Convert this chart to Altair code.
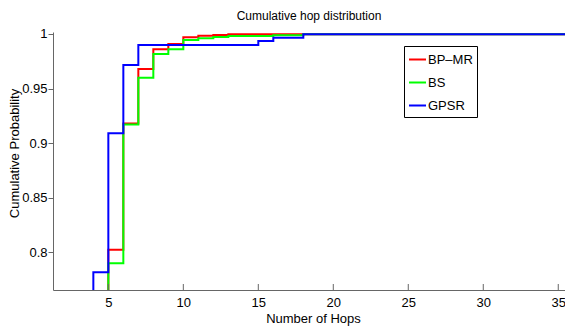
import altair as alt
import pandas as pd

# Step CDF data (x = number of hops, value = cumulative probability after step)
bpmr_x = [4, 5, 6, 7, 8, 9, 10, 11, 12, 13, 37]
bpmr_y = [0.70, 0.8024, 0.918, 0.9678, 0.986, 0.9908, 0.9969, 0.9984, 0.9990, 0.9998, 0.9998]

bs_x = [4, 5, 6, 7, 8, 9, 10, 11, 12, 13, 16, 18, 37]
bs_y = [0.70, 0.790, 0.917, 0.960, 0.9816, 0.986, 0.9945, 0.9960, 0.9973, 0.9982, 0.9988, 0.9998, 0.9998]

gpsr_x = [3, 4, 5, 6, 7, 15, 16, 18, 37]
gpsr_y = [0.70, 0.7817, 0.909, 0.9715, 0.990, 0.9935, 0.9966, 0.9998, 0.9998]

series_names = ["BP–MR", "BS", "GPSR"]
series_colors = ["#ff0000", "#00ff00", "#0000ff"]

x_ticks = [5, 10, 15, 20, 25, 30, 35]
y_ticks = [0.8, 0.85, 0.9, 0.95, 1.0]

rows = []
for name, xs, ys in zip(series_names, [bpmr_x, bs_x, gpsr_x], [bpmr_y, bs_y, gpsr_y]):
    for i, (a, b) in enumerate(zip(xs, ys)):
        rows.append({"series": name, "hops": a, "prob": b, "order": i})
df = pd.DataFrame(rows)

W, H = 512, 258
xscale = alt.Scale(domain=[1.31, 35.45], nice=False, zero=False)
yscale = alt.Scale(domain=[0.7655, 1.0018], nice=False, zero=False)

lines = alt.Chart(df).mark_line(interpolate="step-after", strokeWidth=2, clip=True).encode(
    x=alt.X("hops:Q", scale=xscale,
            axis=alt.Axis(values=x_ticks, title="Number of Hops", ticks=False, labelPadding=6,
                          grid=False, domainColor="#666666", labelColor="#000000",
                          titleY=32, titleX=260, titleBaseline="alphabetic",
                          labelFontSize=13, titleFontSize=13,
                          titleFontWeight="normal", labelFont="Liberation Sans",
                          titleFont="Liberation Sans")),
    y=alt.Y("prob:Q", scale=yscale,
            axis=alt.Axis(values=y_ticks, title="Cumulative Probability", tickSize=5,
                          labelPadding=1, grid=False, domainColor="#666666",
                          tickColor="#666666", labelColor="#000000", titlePadding=0,
                          titleY=121,
                          labelFontSize=13, titleFontSize=13, titleFontWeight="normal",
                          labelFont="Liberation Sans", titleFont="Liberation Sans",
                          labelExpr="datum.value == 1 ? '1' : format(datum.value, '.2~f')")),
    color=alt.Color("series:N",
                    scale=alt.Scale(domain=series_names, range=series_colors),
                    legend=alt.Legend(title=None, orient="none", legendX=351, legendY=14,
                                      symbolType="stroke", symbolSize=289, symbolStrokeWidth=2,
                                      labelFontSize=13, labelFont="Liberation Sans",
                                      labelColor="#000000", rowPadding=6,
                                      strokeColor="#000000", padding=4, fillColor="#ffffff",
                                      labelOffset=1)),
    order="order:Q",
    detail="series:N",
)

tick_df = pd.DataFrame({"t": x_ticks})
xticks_layer = alt.Chart(tick_df).mark_rule(color="#666666", strokeWidth=1).encode(
    x=alt.X("t:Q", scale=xscale),
    y=alt.value(H - 6),
    y2=alt.value(H),
)

chart = alt.layer(lines, xticks_layer).properties(
    width=W, height=H,
    title=alt.TitleParams("Cumulative hop distribution", fontSize=12, fontWeight="normal",
                          font="Liberation Sans", color="#000000", offset=5, anchor="middle"),
    autosize=alt.AutoSizeParams(type="none"),
    padding={"left": 45, "top": 24, "right": 0, "bottom": 36},
).configure_view(stroke=None).configure_axis(domainWidth=1)

chart.save("out.html", embed_options={"renderer": "svg", "actions": False})
